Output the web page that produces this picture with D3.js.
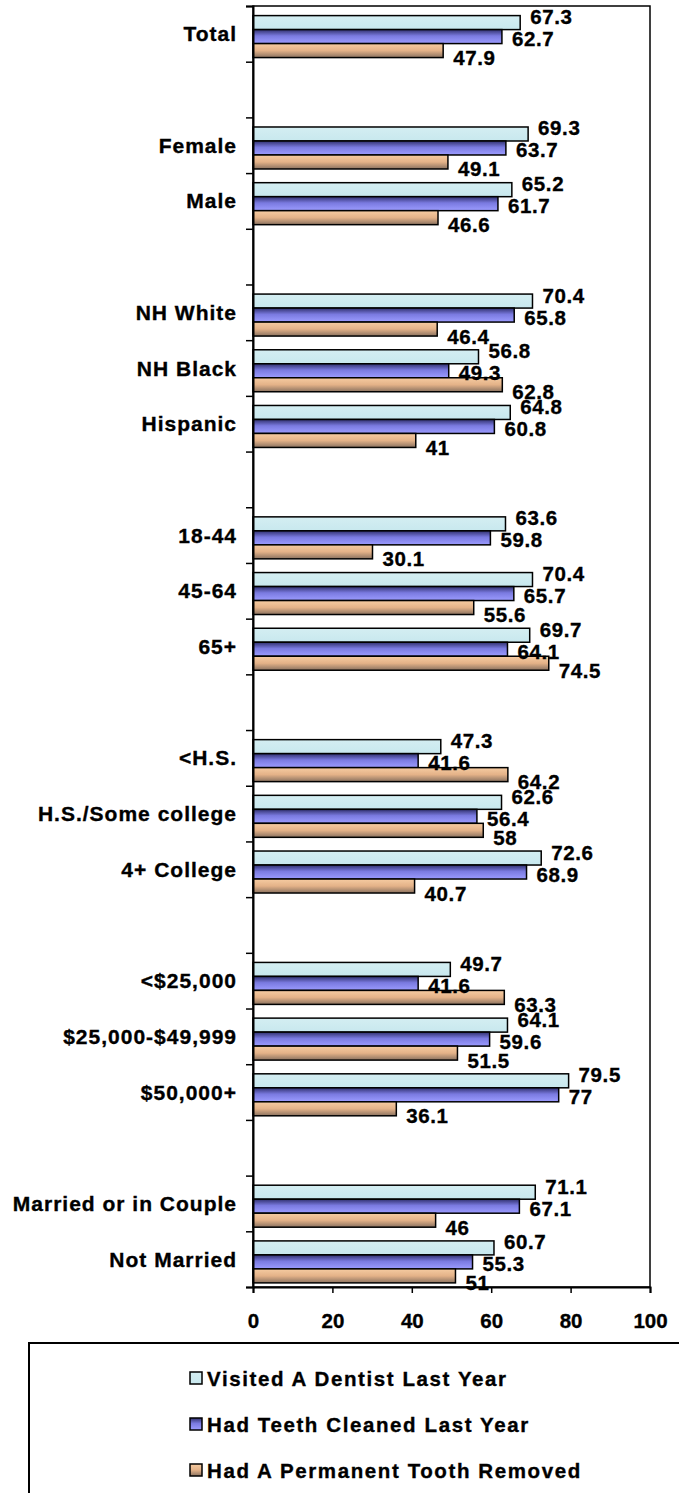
<!DOCTYPE html>
<html><head><meta charset="utf-8">
<script src="https://cdn.jsdelivr.net/npm/d3@7"></script>
<style>
html,body{margin:0;padding:0;background:#fff;}
svg{display:block;font-family:"Liberation Sans",Arial,sans-serif;font-weight:bold;}
svg text{stroke:#000;stroke-width:0.35px;}
</style></head>
<body>
<svg id="chart" width="679" height="1493"></svg>
<script>
const categories = ["Total","","Female","Male","","NH White","NH Black","Hispanic","","18-44","45-64","65+","","<H.S.","H.S./Some college","4+ College","","<$25,000","$25,000-$49,999","$50,000+","","Married or in Couple","Not Married"];
const visited = [67.3,null,69.3,65.2,null,70.4,56.8,64.8,null,63.6,70.4,69.7,null,47.3,62.6,72.6,null,49.7,64.1,79.5,null,71.1,60.7];
const cleaned = [62.7,null,63.7,61.7,null,65.8,49.3,60.8,null,59.8,65.7,64.1,null,41.6,56.4,68.9,null,41.6,59.6,77,null,67.1,55.3];
const removed = [47.9,null,49.1,46.6,null,46.4,62.8,41,null,30.1,55.6,74.5,null,64.2,58,40.7,null,63.3,51.5,36.1,null,46,51];
const seriesNames = ["Visited A Dentist Last Year","Had Teeth Cleaned Last Year","Had A Permanent Tooth Removed"];
const xTicks = [0,20,40,60,80,100];

const series = [visited, cleaned, removed];
const fills = ["url(#gVisited)","url(#gCleaned)","url(#gRemoved)"];

const svg = d3.select("#chart");
const defs = svg.append("defs");
function grad(id, stops){
  const g = defs.append("linearGradient").attr("id",id).attr("x1",0).attr("y1",0).attr("x2",0).attr("y2",1);
  stops.forEach(s=>g.append("stop").attr("offset",s[0]).attr("stop-color",s[1]));
}
grad("gVisited",[[0,"#d4eef2"],[1,"#c8e8ee"]]);
grad("gCleaned",[[0,"#30306e"],[0.45,"#7a7ae0"],[1,"#9c9cff"]]);
grad("gRemoved",[[0,"#f6cca2"],[0.5,"#e4b288"],[1,"#8a7260"]]);

const x = d3.scaleLinear().domain([0,100]).range([253,650]);
const y = d3.scaleBand().domain(d3.range(categories.length)).range([6,1287]);
const yInner = d3.scaleBand().domain([0,1,2]).range([0,y.bandwidth()]).paddingOuter(0.49).align(0.7);
const yLin = d3.scaleLinear().domain([0,categories.length]).range([6,1287]);

// bars
series.forEach((vals,s)=>{
  svg.append("g").selectAll("rect")
    .data(vals.map((v,i)=>({v,i})).filter(d=>d.v!=null))
    .join("rect")
    .attr("x",x(0))
    .attr("y",d=>y(d.i)+yInner(s))
    .attr("width",d=>x(d.v)-x(0))
    .attr("height",yInner.bandwidth())
    .attr("fill",fills[s])
    .attr("stroke","#000").attr("stroke-width",1.5);
});

// plot border
svg.append("rect").attr("x",x(0)).attr("y",yLin(0)).attr("width",x(100)-x(0)).attr("height",yLin(categories.length)-yLin(0))
  .attr("fill","none").attr("stroke","#000").attr("stroke-width",1.5);

// y axis ticks
const yAx = svg.append("g").attr("transform",`translate(${x(0)},0)`)
  .call(d3.axisLeft(yLin).tickValues(d3.range(categories.length+1)).tickSize(7).tickFormat(""));
yAx.select(".domain").attr("stroke","#000").attr("stroke-width",2);
yAx.selectAll(".tick line").attr("stroke","#000").attr("stroke-width",1.5);

// category labels
svg.append("g").selectAll("text").data(categories.map((c,i)=>({c,i})).filter(d=>d.c!==""))
  .join("text")
  .attr("x",237).attr("y",d=>y(d.i)+y.bandwidth()/2)
  .attr("text-anchor","end").attr("dominant-baseline","central")
  .attr("font-size",21).attr("letter-spacing",1)
  .text(d=>d.c);

// x axis
const xAx = svg.append("g").attr("transform",`translate(0,${yLin(categories.length)})`)
  .call(d3.axisBottom(x).tickValues(xTicks).tickSize(6).tickPadding(20));
xAx.select(".domain").attr("stroke","#000").attr("stroke-width",2);
xAx.selectAll(".tick line").attr("stroke","#000").attr("stroke-width",1.5);
xAx.selectAll(".tick text").attr("font-size",20.5).attr("font-family","Liberation Sans, Arial, sans-serif").attr("font-weight","bold").attr("fill","#000");

// value labels
const labelDy = [-20, 2, 21];
series.forEach((vals,s)=>{
  svg.append("g").selectAll("text")
    .data(vals.map((v,i)=>({v,i})).filter(d=>d.v!=null))
    .join("text")
    .attr("x",d=>x(d.v)+10)
    .attr("y",d=>y(d.i)+yInner(1)+yInner.bandwidth()/2+labelDy[s])
    .attr("dominant-baseline","central")
    .attr("font-size",20.5).attr("letter-spacing",0.6)
    .text(d=>String(d.v));
});

// legend
const lg = svg.append("g");
lg.append("rect").attr("x",29).attr("y",1343).attr("width",700).attr("height",200)
  .attr("fill","#fff").attr("stroke","#000").attr("stroke-width",2);
const legendY = [1378,1424,1470];
seriesNames.forEach((n,s)=>{
  lg.append("rect").attr("x",190).attr("y",legendY[s]-6).attr("width",12).attr("height",12)
    .attr("fill",fills[s]).attr("stroke","#000").attr("stroke-width",1.5);
  lg.append("text").attr("x",207).attr("y",legendY[s]).attr("dominant-baseline","central")
    .attr("font-size",20.5).attr("letter-spacing",1.6).text(n);
});
</script>
</body></html>
